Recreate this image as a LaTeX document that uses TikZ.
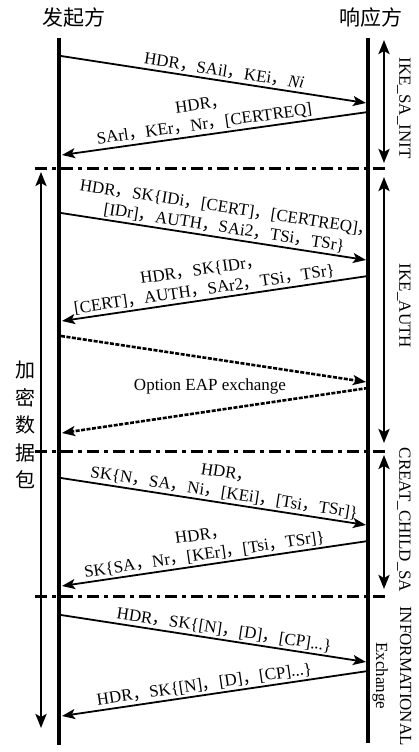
\documentclass[tikz,border=0pt]{standalone}
\usepackage{fontspec}
\setmainfont{Liberation Serif}
\newfontfamily\cjk{Noto Sans CJK SC}
\usepackage{tikz}
\usetikzlibrary{arrows.meta,positioning}
\newcommand{\zc}{{\cjk ，}}

\begin{document}
\begin{tikzpicture}[x=1pt,y=-1pt,
  life/.style={line width=4.5pt},
  msg/.style={-{Stealth[length=13pt,width=10pt,inset=3pt]},line width=1.8pt},
  eap/.style={msg,line width=2.6pt,dash pattern=on 4pt off 1.5pt},
  sep/.style={line width=3pt,dash pattern=on 12pt off 5pt on 4pt off 5pt},
  phase/.style={{Stealth[length=14pt,width=11pt,inset=3pt]}-{Stealth[length=14pt,width=11pt,inset=3pt]},
                line width=2.5pt},
  lbl/.style={font=\fontsize{17}{20}\selectfont,sloped,above,pos=0.53,
              align=center,inner sep=2pt},
  side/.style={font=\fontsize{17}{24}\selectfont,rotate=-90,align=center,inner sep=0pt},
  head/.style={font=\cjk\fontsize{21}{24}\selectfont,inner sep=0pt},
]
  \useasboundingbox (0,0) rectangle (419,752);
  \node[head](ini) at (74,18){发起方};
  \node[head](res) at (371,18){响应方};
  \coordinate (iniT) at (59,38);
  \coordinate (iniB) at (59,745);
  \coordinate (resT) at (368,38);
  \coordinate (resB) at (368,743);
  \draw[life](iniT)--(iniB);
  \draw[life](resT)--(resB);
  \coordinate (s1a) at (35,168);  \coordinate (s1b) at (388,168);
  \coordinate (s2a) at (35,451);  \coordinate (s2b) at (388,451);
  \coordinate (s3a) at (35,596);  \coordinate (s3b) at (388,596);
  \draw[sep](s1a)--(s1b);
  \draw[sep](s2a)--(s2b);
  \draw[sep](s3a)--(s3b);
  \coordinate (p1a) at (384,40);  \coordinate (p1b) at (384,163);
  \coordinate (p2a) at (384,177); \coordinate (p2b) at (384,443);
  \coordinate (p3a) at (384,455); \coordinate (p3b) at (384,589);
  \coordinate (encT) at (41,172); \coordinate (encB) at (41,728);
  \draw[phase](p1a)--(p1b);
  \draw[phase](p2a)--(p2b);
  \draw[phase](p3a)--(p3b);
  \draw[phase](encT)--(encB);
  \node[side](saInit) at (404,108){IKE\_SA\_INIT};
  \node[side](auth) at (404,306){IKE\_AUTH};
  \node[side](child) at (404,520){CREAT\_CHILD\_SA};
  \node[side](info) at (392,676){INFORMATIONAL\\Exchange};
  \node[font=\cjk\fontsize{20}{27.5}\selectfont,align=center,inner sep=0pt](enc)
    at (25,425){加\\密\\数\\据\\包};
  \coordinate (i1) at (61,56);   \coordinate (r1) at (366,103);
  \coordinate (r2) at (368,112); \coordinate (i2) at (62,155);
  \coordinate (i3) at (61,213);  \coordinate (r3) at (366,260);
  \coordinate (r4) at (368,276); \coordinate (i4) at (62,321);
  \coordinate (i5) at (61,336);  \coordinate (r5) at (366,382);
  \coordinate (r6) at (368,388); \coordinate (i6) at (62,433);
  \coordinate (i7) at (61,478);  \coordinate (r7) at (366,525);
  \coordinate (r8) at (368,541); \coordinate (i8) at (62,586);
  \coordinate (i9) at (61,615);  \coordinate (r9) at (366,662);
  \coordinate (r10) at (368,671); \coordinate (i10) at (62,716);
  \draw[msg](i1)--node[lbl](l1){HDR\zc SAil\zc KEi\zc \textit{Ni}}(r1);
  \draw[msg](r2)--node[lbl](l2){HDR\zc\\SArl\zc KEr\zc Nr\zc [CERTREQ]}(i2);
  \draw[msg](i3)--node[lbl](l3){HDR\zc SK\{IDi\zc [CERT]\zc [CERTREQ]\zc\\\relax
    [IDr]\zc AUTH\zc SAi2\zc TSi\zc TSr\}}(r3);
  \draw[msg](r4)--node[lbl](l4){HDR\zc SK\{IDr\zc\\\relax
    [CERT]\zc AUTH\zc SAr2\zc TSi\zc TSr\}}(i4);
  \draw[eap](i5)--(r5);
  \draw[eap](r6)--(i6);
  \node[font=\fontsize{17}{20}\selectfont](eapL) at (210,386){Option EAP exchange};
  \draw[msg](i7)--node[lbl](l7){HDR\zc\\SK\{N\zc SA\zc Ni\zc [KEi]\zc [Tsi\zc TSr]\}}(r7);
  \draw[msg](r8)--node[lbl](l8){HDR\zc\\SK\{SA\zc Nr\zc [KEr]\zc [Tsi\zc TSr]\}}(i8);
  \draw[msg](i9)--node[lbl](l9){HDR\zc SK\{[N]\zc [D]\zc [CP]...\}}(r9);
  \draw[msg](r10)--node[lbl](l10){HDR\zc SK\{[N]\zc [D]\zc [CP]...\}}(i10);
\end{tikzpicture}
\end{document}
